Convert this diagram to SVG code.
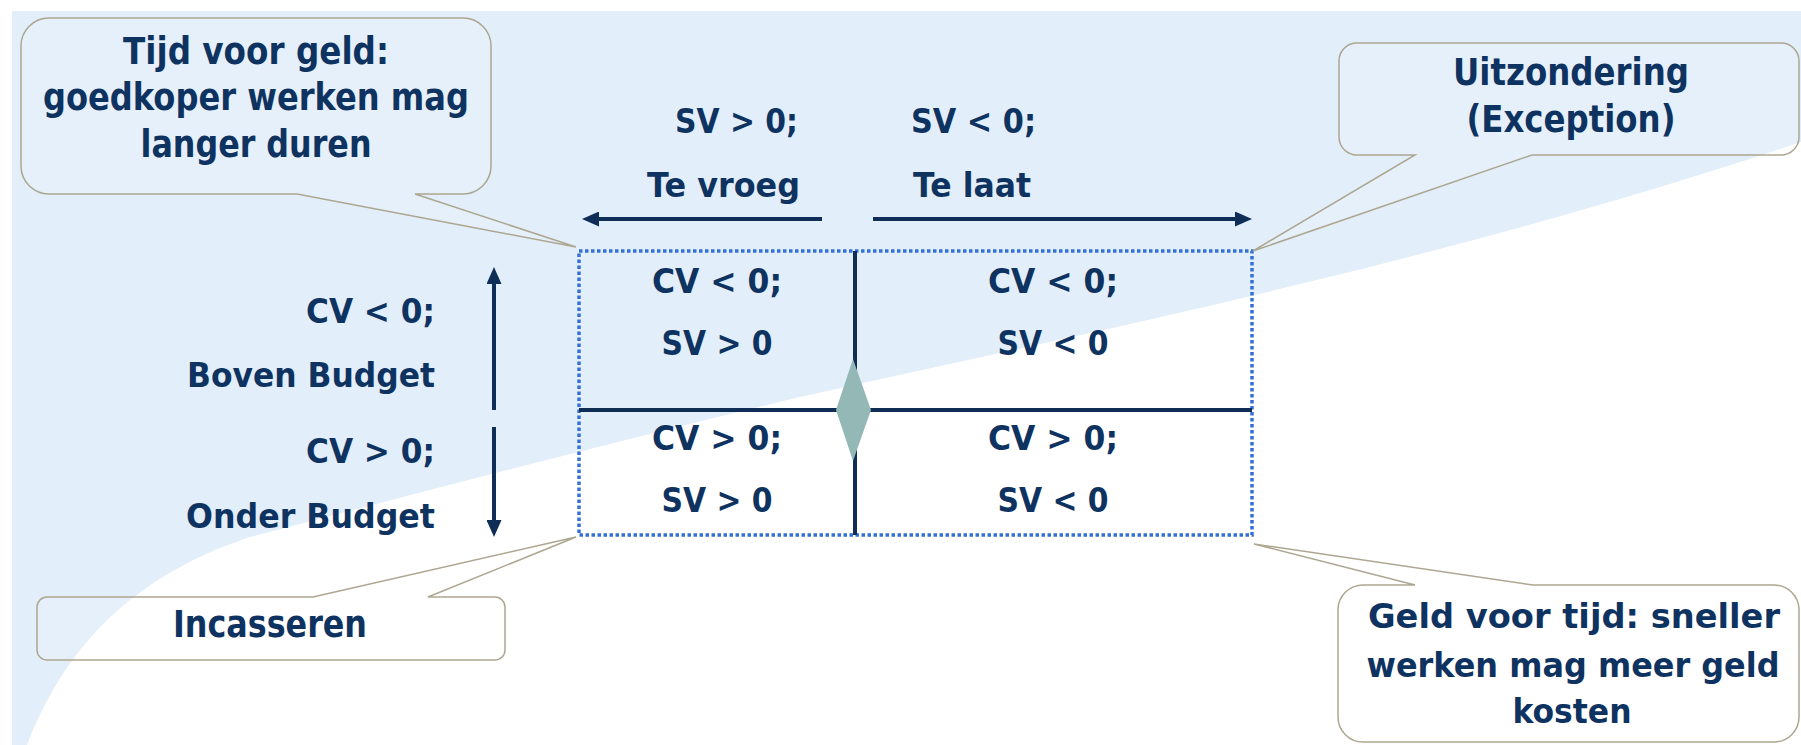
<svg xmlns="http://www.w3.org/2000/svg" width="1801" height="745" viewBox="0 0 1801 745">
<defs>
<style>
.t{font-family:"DejaVu Sans","Liberation Sans",sans-serif;font-weight:bold;fill:#0F3361;}
.lbl{font-size:34px;}
.co{font-size:37px;}
.co2{font-size:33px;}
.mid{text-anchor:middle;}
.end{text-anchor:end;}
.callout{fill:#ffffff;fill-opacity:0.12;stroke:#ADA690;stroke-width:1.5;}
.arr{stroke:#0E2E58;stroke-width:4;fill:none;}
.div{stroke:#0F2D55;stroke-width:4;}
</style>
<marker id="ah" viewBox="0 0 17 15" refX="7" refY="7.5" markerWidth="17" markerHeight="15" markerUnits="userSpaceOnUse" orient="auto-start-reverse">
<path d="M0,0 L17,7.5 L0,15 Z" fill="#0E2E58"/>
</marker>
</defs>

<g id="background">
<rect width="1801" height="745" fill="#ffffff"/>
<path d="M12,11 H1801 V142 C1450,260 1100,330 800,397 C620,440 430,490 250,537 C120,580 60,660 27,745 H12 Z" fill="#E2EEFA"/>
</g>

<g id="grid">
<rect x="579" y="251" width="673" height="284" fill="none" stroke="#3570D6" stroke-width="3.5" stroke-dasharray="3.5 2.5"/>
<line class="div" x1="855" y1="251" x2="855" y2="535"/>
<line class="div" x1="579" y1="410" x2="1252" y2="410"/>
<polygon points="853,359 871,410 853,461 836,410" fill="#93B8B6"/>
</g>

<g id="connectors">
<line class="arr" x1="822" y1="219" x2="592" y2="219" marker-end="url(#ah)"/>
<line class="arr" x1="873" y1="219" x2="1242" y2="219" marker-end="url(#ah)"/>
<line class="arr" x1="494" y1="410" x2="494" y2="277" marker-end="url(#ah)"/>
<line class="arr" x1="494" y1="427" x2="494" y2="527" marker-end="url(#ah)"/>
</g>

<g id="cell-tl">
<text class="t lbl mid" x="717" y="293" textLength="130" lengthAdjust="spacingAndGlyphs">CV &lt; 0;</text>
<text class="t lbl mid" x="717" y="355" textLength="111" lengthAdjust="spacingAndGlyphs">SV &gt; 0</text>
</g>
<g id="cell-tr">
<text class="t lbl mid" x="1053" y="293" textLength="130" lengthAdjust="spacingAndGlyphs">CV &lt; 0;</text>
<text class="t lbl mid" x="1053" y="355" textLength="111" lengthAdjust="spacingAndGlyphs">SV &lt; 0</text>
</g>
<g id="cell-bl">
<text class="t lbl mid" x="717" y="450" textLength="130" lengthAdjust="spacingAndGlyphs">CV &gt; 0;</text>
<text class="t lbl mid" x="717" y="512" textLength="111" lengthAdjust="spacingAndGlyphs">SV &gt; 0</text>
</g>
<g id="cell-br">
<text class="t lbl mid" x="1053" y="450" textLength="130" lengthAdjust="spacingAndGlyphs">CV &gt; 0;</text>
<text class="t lbl mid" x="1053" y="512" textLength="111" lengthAdjust="spacingAndGlyphs">SV &lt; 0</text>
</g>

<g id="label-early">
<text class="t lbl end" x="798" y="133" textLength="123" lengthAdjust="spacingAndGlyphs">SV &gt; 0;</text>
<text class="t lbl end" x="800" y="197" textLength="153" lengthAdjust="spacingAndGlyphs">Te vroeg</text>
</g>
<g id="label-late">
<text class="t lbl" x="911" y="133" textLength="125" lengthAdjust="spacingAndGlyphs">SV &lt; 0;</text>
<text class="t lbl" x="913" y="197" textLength="118" lengthAdjust="spacingAndGlyphs">Te laat</text>
</g>
<g id="label-over">
<text class="t lbl end" x="435" y="323" textLength="129" lengthAdjust="spacingAndGlyphs">CV &lt; 0;</text>
<text class="t lbl end" x="435" y="387" textLength="248" lengthAdjust="spacingAndGlyphs">Boven Budget</text>
</g>
<g id="label-under">
<text class="t lbl end" x="435" y="463" textLength="129" lengthAdjust="spacingAndGlyphs">CV &gt; 0;</text>
<text class="t lbl end" x="435" y="528" textLength="249" lengthAdjust="spacingAndGlyphs">Onder Budget</text>
</g>

<g id="callout-tijd-voor-geld">
<path class="callout" d="M49,18 H463 A28,28 0 0 1 491,46 V166 A28,28 0 0 1 463,194 H415 L576,247 L297,194 H49 A28,28 0 0 1 21,166 V46 A28,28 0 0 1 49,18 Z"/>
<text class="t co mid" x="256" y="64" textLength="266" lengthAdjust="spacingAndGlyphs">Tijd voor geld:</text>
<text class="t co mid" x="256" y="110" textLength="426" lengthAdjust="spacingAndGlyphs">goedkoper werken mag</text>
<text class="t co mid" x="256" y="157" textLength="231" lengthAdjust="spacingAndGlyphs">langer duren</text>
</g>

<g id="callout-uitzondering">
<path class="callout" d="M1357,43 H1781 A18,18 0 0 1 1799,61 V137 A18,18 0 0 1 1781,155 H1532 L1253,251 L1415,155 H1357 A18,18 0 0 1 1339,137 V61 A18,18 0 0 1 1357,43 Z"/>
<text class="t co mid" x="1571" y="85" textLength="236" lengthAdjust="spacingAndGlyphs">Uitzondering</text>
<text class="t co mid" x="1571" y="132" textLength="209" lengthAdjust="spacingAndGlyphs">(Exception)</text>
</g>

<g id="callout-incasseren">
<path class="callout" d="M47,597 H313 L576,537 L428,597 H495 A10,10 0 0 1 505,607 V650 A10,10 0 0 1 495,660 H47 A10,10 0 0 1 37,650 V607 A10,10 0 0 1 47,597 Z"/>
<text class="t co mid" x="270" y="637" textLength="194" lengthAdjust="spacingAndGlyphs">Incasseren</text>
</g>

<g id="callout-geld-voor-tijd">
<path class="callout" d="M1363,585 H1415 L1254,544 L1533,585 H1774 A25,25 0 0 1 1799,610 V717 A25,25 0 0 1 1774,742 H1363 A25,25 0 0 1 1338,717 V610 A25,25 0 0 1 1363,585 Z"/>
<text class="t co2 mid" x="1574" y="628" textLength="412" lengthAdjust="spacingAndGlyphs">Geld voor tijd: sneller</text>
<text class="t co2 mid" x="1573" y="677" textLength="413" lengthAdjust="spacingAndGlyphs">werken mag meer geld</text>
<text class="t co2 mid" x="1572" y="723" textLength="119" lengthAdjust="spacingAndGlyphs">kosten</text>
</g>
</svg>
